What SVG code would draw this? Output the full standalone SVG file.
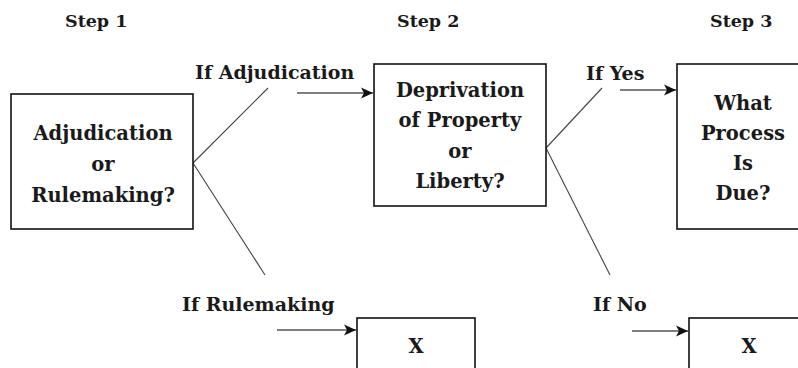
<svg xmlns="http://www.w3.org/2000/svg" width="798" height="368" viewBox="0 0 798 368">
  <style>
    .box { fill: #ffffff; stroke: #111111; stroke-width: 1.6; }
    .txt { font-family: "DejaVu Serif", "Liberation Serif", serif; font-weight: bold; fill: #1a1a1a; text-anchor: middle; }
    .node { font-size: 19.5px; }
    .lbl { font-size: 19px; text-anchor: start; }
    .step { font-size: 17.5px; text-anchor: start; }
    .branch { stroke: #444444; stroke-width: 1.1; fill: none; }
    .arrow { stroke: #555555; stroke-width: 1.7; fill: none; marker-end: url(#head); }
  </style>
  <defs>
    <marker id="head" viewBox="0 0 10 10" refX="10" refY="5" markerWidth="13" markerHeight="12" markerUnits="userSpaceOnUse" orient="auto">
      <path d="M0,0.5 L10,5 L0,9.5 L2.5,5 Z" fill="#111111"/>
    </marker>
  </defs>
  <rect width="798" height="368" fill="#ffffff"/>

  <g id="step-labels">
    <text class="txt step" x="65" y="27">Step 1</text>
    <text class="txt step" x="397" y="27">Step 2</text>
    <text class="txt step" x="710" y="27">Step 3</text>
  </g>

  <g id="connectors">
    <line class="branch" x1="193" y1="163" x2="268" y2="88"/>
    <line class="branch" x1="193" y1="163" x2="265" y2="275"/>
    <line class="branch" x1="546" y1="148" x2="602" y2="88"/>
    <line class="branch" x1="546" y1="148" x2="610" y2="275"/>
    <line class="arrow" x1="297" y1="93" x2="373" y2="93"/>
    <line class="arrow" x1="620" y1="90" x2="676" y2="90"/>
    <line class="arrow" x1="277" y1="330" x2="356" y2="330"/>
    <line class="arrow" x1="632" y1="331" x2="688" y2="331"/>
    <text class="txt lbl" x="195" y="79">If Adjudication</text>
    <text class="txt lbl" x="586" y="80">If Yes</text>
    <text class="txt lbl" x="182" y="311">If Rulemaking</text>
    <text class="txt lbl" x="593" y="311">If No</text>
  </g>

  <g id="adjudication-or-rulemaking">
    <rect class="box" x="11" y="94" width="182" height="135"/>
    <text class="txt node" x="103" y="140">Adjudication</text>
    <text class="txt node" x="103" y="171">or</text>
    <text class="txt node" x="103" y="202">Rulemaking?</text>
  </g>

  <g id="deprivation">
    <rect class="box" x="374" y="64" width="172" height="142"/>
    <text class="txt node" x="460" y="97">Deprivation</text>
    <text class="txt node" x="460" y="127">of Property</text>
    <text class="txt node" x="460" y="158">or</text>
    <text class="txt node" x="460" y="188">Liberty?</text>
  </g>

  <g id="what-process">
    <rect class="box" x="677" y="64" width="130" height="165"/>
    <text class="txt node" x="743" y="110">What</text>
    <text class="txt node" x="743" y="140">Process</text>
    <text class="txt node" x="743" y="170">Is</text>
    <text class="txt node" x="743" y="200">Due?</text>
  </g>

  <g id="x-rulemaking">
    <rect class="box" x="357" y="318" width="118" height="60"/>
    <text class="txt node" x="416" y="353">X</text>
  </g>

  <g id="x-no-deprivation">
    <rect class="box" x="689" y="318" width="120" height="60"/>
    <text class="txt node" x="749" y="353">X</text>
  </g>
</svg>
